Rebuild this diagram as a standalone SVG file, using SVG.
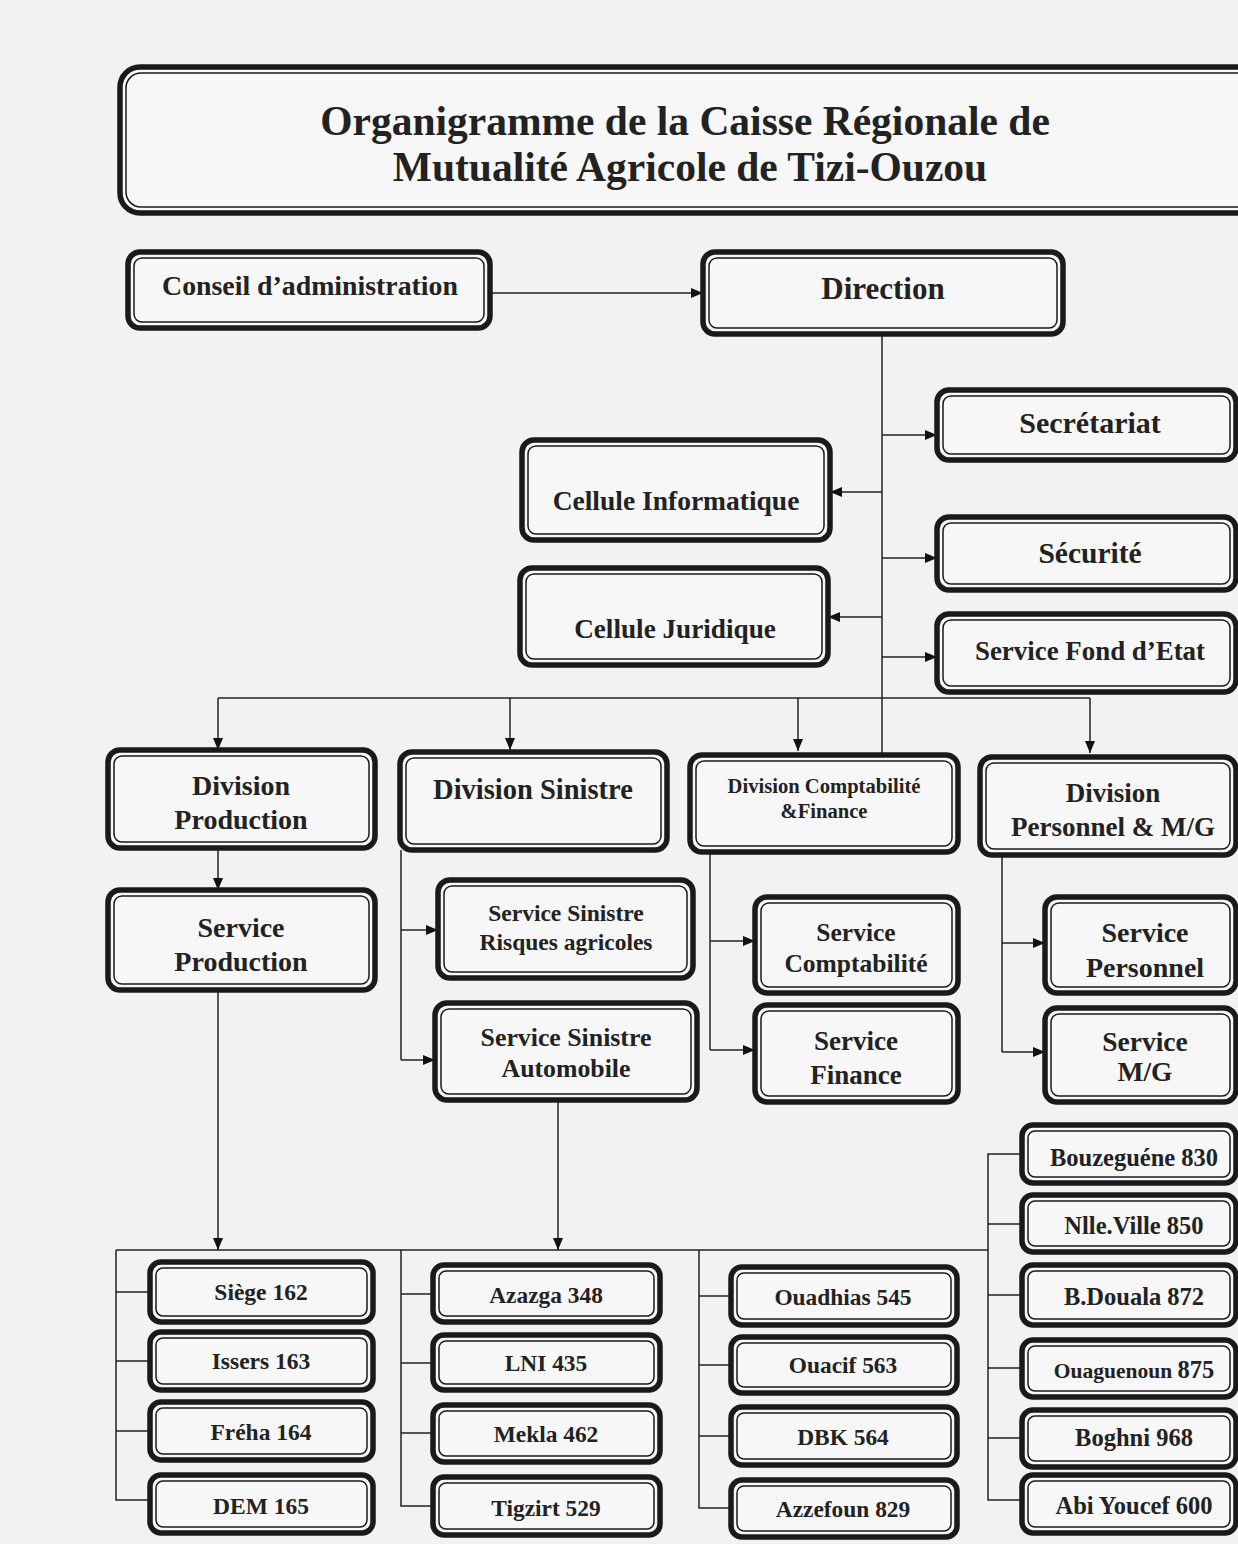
<svg xmlns="http://www.w3.org/2000/svg" width="1238" height="1544" viewBox="0 0 1238 1544">
<style>
.o{fill:#f7f7f7;stroke:#1a1a1a;stroke-width:5.5}
.i{fill:none;stroke:#1a1a1a;stroke-width:1.5}
.t{font-family:"Liberation Serif","DejaVu Serif",serif;font-weight:bold;fill:#222;text-anchor:middle}
.c{fill:none;stroke:#222;stroke-width:1.5}
.a{fill:none;stroke:#222;stroke-width:1.5;marker-end:url(#ah)}
</style>
<defs>
<marker id="ah" markerUnits="userSpaceOnUse" markerWidth="12" markerHeight="12" refX="12" refY="6" orient="auto">
<path d="M0,1 L12,6 L0,11 Z" fill="#111"/>
</marker>
</defs>
<rect x="0" y="0" width="1238" height="1544" fill="#f2f2f2"/>

<g id="title">
<rect class="o" x="120" y="67" width="1140" height="146" rx="20"/>
<rect class="i" x="126" y="73" width="1128" height="134" rx="15"/>
<text class="t" x="685" y="135" font-size="41.5">Organigramme de la Caisse Régionale de</text>
<text class="t" x="690" y="181" font-size="41.5">Mutualité Agricole de Tizi-Ouzou</text>
</g>

<g id="connectors">
<path class="a" d="M490,293 H703"/>
<path class="c" d="M882,334 V755"/>
<path class="a" d="M882,435 H937"/>
<path class="a" d="M882,492 H830"/>
<path class="a" d="M882,558 H937"/>
<path class="a" d="M882,617 H828"/>
<path class="a" d="M882,657 H937"/>
<path class="c" d="M218,698 H1090"/>
<path class="a" d="M218,698 V750"/>
<path class="a" d="M510,698 V750"/>
<path class="a" d="M798,698 V751"/>
<path class="a" d="M1090,698 V753"/>
<path class="a" d="M218,848 V890"/>
<path class="c" d="M401,850 V1060"/>
<path class="a" d="M401,930 H438"/>
<path class="a" d="M401,1060 H435"/>
<path class="c" d="M710,852 V1050"/>
<path class="a" d="M710,941 H755"/>
<path class="a" d="M710,1050 H755"/>
<path class="c" d="M1002,855 V1052"/>
<path class="a" d="M1002,943 H1045"/>
<path class="a" d="M1002,1052 H1045"/>
<path class="a" d="M218,990 V1250"/>
<path class="a" d="M558,1100 V1250"/>
<path class="c" d="M116,1250 H988"/>
<path class="c" d="M116,1250 V1500 H150 M116,1292 H150 M116,1361 H150 M116,1431 H150"/>
<path class="c" d="M401,1250 V1506 H433 M401,1294 H433 M401,1363 H433 M401,1433 H433"/>
<path class="c" d="M699,1250 V1508 H731 M699,1296 H731 M699,1365 H731 M699,1436 H731"/>
<path class="c" d="M1022,1154 H988 V1500 H1022 M988,1224 H1022 M988,1295 H1022 M988,1368 H1022 M988,1438 H1022"/>
</g>

<g id="conseil"><rect class="o" x="128" y="252" width="362" height="76" rx="12"/><rect class="i" x="134" y="258" width="350" height="64" rx="8"/><text class="t" x="310" y="295" font-size="27.8">Conseil d’administration</text></g>
<g id="direction"><rect class="o" x="703" y="252" width="360" height="82" rx="12"/><rect class="i" x="709" y="258" width="348" height="70" rx="8"/><text class="t" x="883" y="299" font-size="31">Direction</text></g>
<g id="secretariat"><rect class="o" x="937" y="390" width="299" height="70" rx="12"/><rect class="i" x="943" y="396" width="287" height="58" rx="8"/><text class="t" x="1090" y="433" font-size="30">Secrétariat</text></g>
<g id="cellule-info"><rect class="o" x="522" y="440" width="308" height="100" rx="12"/><rect class="i" x="528" y="446" width="296" height="88" rx="8"/><text class="t" x="676" y="510" font-size="27.5">Cellule Informatique</text></g>
<g id="securite"><rect class="o" x="937" y="517" width="299" height="73" rx="12"/><rect class="i" x="943" y="523" width="287" height="61" rx="8"/><text class="t" x="1090" y="563" font-size="29.5">Sécurité</text></g>
<g id="cellule-jur"><rect class="o" x="520" y="568" width="308" height="97" rx="12"/><rect class="i" x="526" y="574" width="296" height="85" rx="8"/><text class="t" x="675" y="638" font-size="27.2">Cellule Juridique</text></g>
<g id="fond-etat"><rect class="o" x="937" y="614" width="299" height="78" rx="12"/><rect class="i" x="943" y="620" width="287" height="66" rx="8"/><text class="t" x="1090" y="660" font-size="26.9">Service Fond d’Etat</text></g>

<g id="div-prod"><rect class="o" x="108" y="750" width="267" height="98" rx="12"/><rect class="i" x="114" y="756" width="255" height="86" rx="8"/><text class="t" x="241" y="795" font-size="28">Division</text><text class="t" x="241" y="829" font-size="28">Production</text></g>
<g id="div-sin"><rect class="o" x="400" y="752" width="267" height="98" rx="12"/><rect class="i" x="406" y="758" width="255" height="86" rx="8"/><text class="t" x="533" y="799" font-size="28.5">Division Sinistre</text></g>
<g id="div-compta"><rect class="o" x="690" y="755" width="268" height="97" rx="12"/><rect class="i" x="696" y="761" width="256" height="85" rx="8"/><text class="t" x="824" y="793" font-size="20.6">Division Comptabilité</text><text class="t" x="824" y="818" font-size="20.6">&amp;Finance</text></g>
<g id="div-pers"><rect class="o" x="980" y="757" width="256" height="98" rx="12"/><rect class="i" x="986" y="763" width="244" height="86" rx="8"/><text class="t" x="1113" y="802" font-size="27">Division</text><text class="t" x="1113" y="836" font-size="27">Personnel &amp; M/G</text></g>

<g id="serv-prod"><rect class="o" x="108" y="890" width="267" height="100" rx="12"/><rect class="i" x="114" y="896" width="255" height="88" rx="8"/><text class="t" x="241" y="937" font-size="28">Service</text><text class="t" x="241" y="971" font-size="28">Production</text></g>
<g id="serv-sin-ra"><rect class="o" x="438" y="880" width="255" height="98" rx="12"/><rect class="i" x="444" y="886" width="243" height="86" rx="8"/><text class="t" x="566" y="921" font-size="23.5">Service Sinistre</text><text class="t" x="566" y="950" font-size="23.5">Risques agricoles</text></g>
<g id="serv-sin-auto"><rect class="o" x="435" y="1003" width="262" height="97" rx="12"/><rect class="i" x="441" y="1009" width="250" height="85" rx="8"/><text class="t" x="566" y="1046" font-size="25.8">Service Sinistre</text><text class="t" x="566" y="1077" font-size="25.8">Automobile</text></g>
<g id="serv-compta"><rect class="o" x="755" y="897" width="203" height="96" rx="12"/><rect class="i" x="761" y="903" width="191" height="84" rx="8"/><text class="t" x="856" y="941" font-size="25.5">Service</text><text class="t" x="856" y="972" font-size="25.5">Comptabilité</text></g>
<g id="serv-fin"><rect class="o" x="755" y="1005" width="203" height="97" rx="12"/><rect class="i" x="761" y="1011" width="191" height="85" rx="8"/><text class="t" x="856" y="1050" font-size="27">Service</text><text class="t" x="856" y="1084" font-size="27">Finance</text></g>
<g id="serv-pers"><rect class="o" x="1045" y="897" width="191" height="96" rx="12"/><rect class="i" x="1051" y="903" width="179" height="84" rx="8"/><text class="t" x="1145" y="942" font-size="28">Service</text><text class="t" x="1145" y="977" font-size="28">Personnel</text></g>
<g id="serv-mg"><rect class="o" x="1045" y="1008" width="191" height="94" rx="12"/><rect class="i" x="1051" y="1014" width="179" height="82" rx="8"/><text class="t" x="1145" y="1051" font-size="27.5">Service</text><text class="t" x="1145" y="1081" font-size="27.5">M/G</text></g>

<g id="siege"><rect class="o" x="150" y="1262" width="223" height="60" rx="11"/><rect class="i" x="156" y="1268" width="211" height="48" rx="7"/><text class="t" x="261" y="1300" font-size="23.5">Siège 162</text></g>
<g id="issers"><rect class="o" x="150" y="1332" width="223" height="58" rx="11"/><rect class="i" x="156" y="1338" width="211" height="46" rx="7"/><text class="t" x="261" y="1369" font-size="23.5">Issers 163</text></g>
<g id="freha"><rect class="o" x="150" y="1402" width="223" height="58" rx="11"/><rect class="i" x="156" y="1408" width="211" height="46" rx="7"/><text class="t" x="261" y="1440" font-size="23.5">Fréha 164</text></g>
<g id="dem"><rect class="o" x="150" y="1475" width="223" height="58" rx="11"/><rect class="i" x="156" y="1481" width="211" height="46" rx="7"/><text class="t" x="261" y="1514" font-size="23.5">DEM 165</text></g>

<g id="azazga"><rect class="o" x="433" y="1265" width="227" height="57" rx="11"/><rect class="i" x="439" y="1271" width="215" height="45" rx="7"/><text class="t" x="546" y="1303" font-size="23.4">Azazga 348</text></g>
<g id="lni"><rect class="o" x="433" y="1335" width="227" height="55" rx="11"/><rect class="i" x="439" y="1341" width="215" height="43" rx="7"/><text class="t" x="546" y="1371" font-size="23.4">LNI 435</text></g>
<g id="mekla"><rect class="o" x="433" y="1405" width="227" height="57" rx="11"/><rect class="i" x="439" y="1411" width="215" height="45" rx="7"/><text class="t" x="546" y="1442" font-size="23.4">Mekla 462</text></g>
<g id="tigzirt"><rect class="o" x="433" y="1477" width="227" height="58" rx="11"/><rect class="i" x="439" y="1483" width="215" height="46" rx="7"/><text class="t" x="546" y="1516" font-size="23.4">Tigzirt 529</text></g>

<g id="ouadhias"><rect class="o" x="731" y="1267" width="226" height="58" rx="11"/><rect class="i" x="737" y="1273" width="214" height="46" rx="7"/><text class="t" x="843" y="1305" font-size="23.4">Ouadhias 545</text></g>
<g id="ouacif"><rect class="o" x="731" y="1337" width="226" height="56" rx="11"/><rect class="i" x="737" y="1343" width="214" height="44" rx="7"/><text class="t" x="843" y="1373" font-size="23.4">Ouacif 563</text></g>
<g id="dbk"><rect class="o" x="731" y="1407" width="226" height="58" rx="11"/><rect class="i" x="737" y="1413" width="214" height="46" rx="7"/><text class="t" x="843" y="1445" font-size="23.4">DBK 564</text></g>
<g id="azzefoun"><rect class="o" x="731" y="1480" width="226" height="57" rx="11"/><rect class="i" x="737" y="1486" width="214" height="45" rx="7"/><text class="t" x="843" y="1517" font-size="23.4">Azzefoun 829</text></g>

<g id="bouzeguene"><rect class="o" x="1022" y="1125" width="214" height="58" rx="11"/><rect class="i" x="1028" y="1131" width="202" height="46" rx="7"/><text class="t" x="1134" y="1166" font-size="24.5">Bouzeguéne 830</text></g>
<g id="nlle-ville"><rect class="o" x="1022" y="1195" width="214" height="57" rx="11"/><rect class="i" x="1028" y="1201" width="202" height="45" rx="7"/><text class="t" x="1134" y="1234" font-size="24.5">Nlle.Ville 850</text></g>
<g id="bdouala"><rect class="o" x="1022" y="1265" width="214" height="60" rx="11"/><rect class="i" x="1028" y="1271" width="202" height="48" rx="7"/><text class="t" x="1134" y="1305" font-size="24.5">B.Douala 872</text></g>
<g id="ouaguenoun"><rect class="o" x="1022" y="1340" width="214" height="57" rx="11"/><rect class="i" x="1028" y="1346" width="202" height="45" rx="7"/><text class="t" x="1134" y="1378" font-size="21.5">Ouaguenoun <tspan font-size="24.5">875</tspan></text></g>
<g id="boghni"><rect class="o" x="1022" y="1410" width="214" height="57" rx="11"/><rect class="i" x="1028" y="1416" width="202" height="45" rx="7"/><text class="t" x="1134" y="1446" font-size="24.5">Boghni 968</text></g>
<g id="abi-youcef"><rect class="o" x="1022" y="1475" width="214" height="58" rx="11"/><rect class="i" x="1028" y="1481" width="202" height="46" rx="7"/><text class="t" x="1134" y="1514" font-size="24.5">Abi Youcef 600</text></g>
</svg>
